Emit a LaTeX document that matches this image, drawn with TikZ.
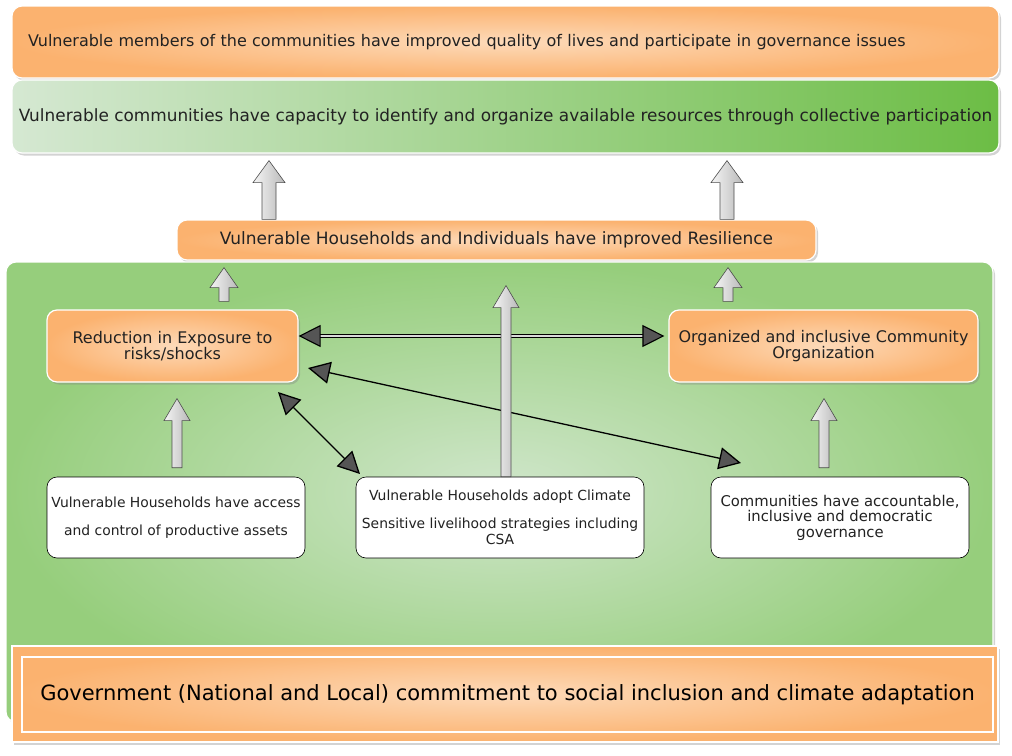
\documentclass[tikz,border=0pt]{standalone}
\usepackage{fontspec}
\setmainfont{DejaVu Sans}
\usetikzlibrary{positioning,shadows,arrows.meta,calc}

\definecolor{orEdge}{HTML}{FBB26F}
\definecolor{orMid}{HTML}{FDDAB9}
\definecolor{grLeft}{HTML}{D5E8D2}
\definecolor{grRight}{HTML}{6CBD45}
\definecolor{panelMid}{HTML}{D0E6CB}
\definecolor{panelEdge}{HTML}{96CE7C}
\definecolor{tipGray}{HTML}{555555}
\definecolor{txtDark}{HTML}{222222}

% gray block arrow: x, tail, tip, shaft half width, head half width, head length
\newcommand{\blockarrow}[6]{%
  \path[blockarr] let \p3=(#1,0), \p1=#2, \p2=#3 in
    (\x3-#4,\y1) -- (\x3-#4,\y2-#6) -- (\x3-#5,\y2-#6) -- (\x3,\y2)
    -- (\x3+#5,\y2-#6) -- (\x3+#4,\y2-#6) -- (\x3+#4,\y1) -- cycle;}

\begin{document}
\begin{tikzpicture}[x=1pt,y=-1pt,
  shadowed/.style={drop shadow={opacity=0.35,shadow xshift=2pt,shadow yshift=-2.5pt}},
  orangebox/.style={rectangle, rounded corners=10pt, draw=white, line width=1.2pt,
    inner color=orMid, outer color=orEdge, text=txtDark, shadowed},
  whitebox/.style={rectangle, rounded corners=10pt, draw=black, line width=0.6pt,
    fill=white, text=txtDark, align=center},
  blockarr/.style={draw=gray!60!black, line width=0.6pt, left color=gray!8, right color=gray!55},
  darrow/.style={draw=black, line width=1.3pt,
    {Triangle[length=22pt,width=22pt,fill=tipGray]}-{Triangle[length=22pt,width=22pt,fill=tipGray]}}]

  \useasboundingbox (0,0) rectangle (1012,755);

  % goal levels
  \node[orangebox, minimum width=987pt, minimum height=72pt, text width=955pt, align=left,
    font=\fontsize{16}{19}\selectfont] (top1) at (505.5,42)
    {\raisebox{2pt}{Vulnerable members of the communities have improved quality of lives and participate in governance issues}};
  \node[rectangle, rounded corners=10pt, draw=white, line width=1.2pt, left color=grLeft, right color=grRight,
    shadowed, minimum width=987pt, minimum height=73pt, text=txtDark,
    font=\fontsize{16.9}{19}\selectfont] (top2) at (505.5,116.5)
    {\raisebox{-2pt}{Vulnerable communities have capacity to identify and organize available resources through collective participation}};
  \node[orangebox, minimum width=639pt, minimum height=40pt,
    font=\fontsize{17}{19}\selectfont] (resil) at (496.5,240)
    {Vulnerable Households and Individuals have improved Resilience};

  % green panel
  \node[rectangle, rounded corners=10pt, draw=white, line width=1.2pt, inner color=panelMid, outer color=panelEdge,
    shadowed, minimum width=987pt, minimum height=460pt] (panel) at (499.5,492) {};

  \node[orangebox, minimum width=251pt, minimum height=72pt, align=center,
    font=\fontsize{16}{16}\selectfont] (red) at (172.5,346)
    {Reduction in Exposure to\\risks/shocks};
  \node[orangebox, minimum width=309pt, minimum height=72pt, align=center,
    font=\fontsize{16}{16}\selectfont] (org) at (823.5,346)
    {Organized and inclusive Community\\Organization};

  \node[whitebox, minimum width=258pt, minimum height=81pt,
    font=\fontsize{13.9}{15}\selectfont] (boxA) at (176,517.5)
    {Vulnerable Households have access\\[13pt]and control of productive assets};
  \node[whitebox, minimum width=288pt, minimum height=81pt,
    font=\fontsize{13.9}{15.5}\selectfont] (boxB) at (500,517.5)
    {Vulnerable Households adopt Climate\\[12.5pt]Sensitive livelihood strategies including\\CSA};
  \node[whitebox, minimum width=258pt, minimum height=81pt,
    font=\fontsize{14.8}{15.5}\selectfont] (boxC) at (840,517.5)
    {Communities have accountable,\\inclusive and democratic\\governance};

  % government base
  \node[rectangle, draw=white, line width=1.2pt, inner color=orMid, outer color=orEdge, shadowed,
    minimum width=986pt, minimum height=96pt] (govbox) at (505,694) {};
  \node[rectangle, draw=white, line width=1.5pt, minimum width=971pt, minimum height=75pt,
    text=black, font=\fontsize{21}{24}\selectfont] (govtext) at (507.5,694.5)
    {\raisebox{-3pt}{Government (National and Local) commitment to social inclusion and climate adaptation}};

  % links between outcomes
  \coordinate (d1a) at (308,368);
  \coordinate (d1b) at (741,463);
  \coordinate (d2a) at (278,392);
  \coordinate (d2b) at (360,474);
  \draw[darrow, line width=1.1pt, double=gray!30, double distance=1.4pt]
    ([yshift=10pt]red.east) -- ([yshift=10pt,xshift=-4pt]org.west);
  \draw[darrow] (d1a) -- (d1b);
  \draw[darrow] (d2a) -- (d2b);

  % upward block arrows
  \blockarrow{269}{(resil.north)}{($(top2.south)+(0,7)$)}{7}{16}{22}
  \blockarrow{727}{(resil.north)}{($(top2.south)+(0,7)$)}{7}{16}{22}
  \blockarrow{224}{($(red.north)+(0,-8)$)}{($(resil.south)+(0,7)$)}{5}{14}{20}
  \blockarrow{728}{($(org.north)+(0,-8)$)}{($(resil.south)+(0,7)$)}{5}{14}{20}
  \blockarrow{506}{(boxB.north)}{($(resil.south)+(0,25)$)}{5}{13}{22}
  \blockarrow{177}{($(boxA.north)+(0,-9)$)}{($(red.south)+(0,16)$)}{5}{13}{22}
  \blockarrow{824}{($(boxC.north)+(0,-9)$)}{($(org.south)+(0,16)$)}{5}{13}{22}
\end{tikzpicture}
\end{document}
